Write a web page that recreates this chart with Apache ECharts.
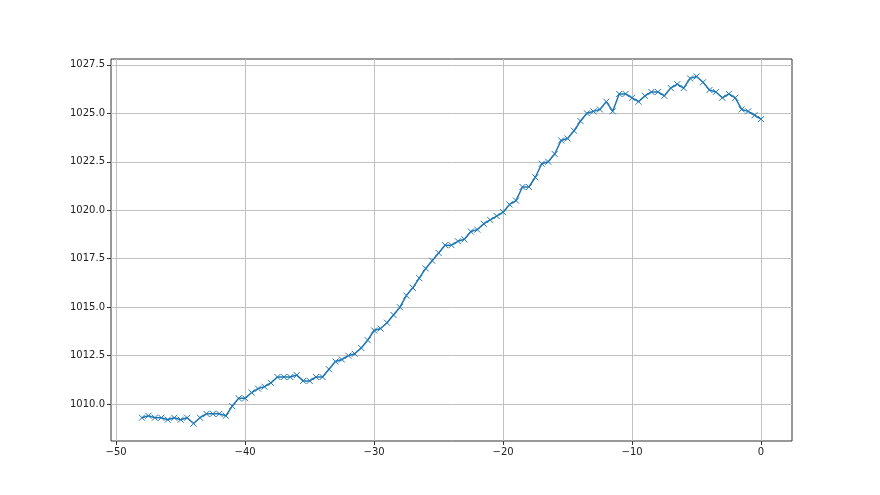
<!DOCTYPE html>
<html>
<head>
<meta charset="utf-8">
<script src="https://cdn.jsdelivr.net/npm/echarts@6/dist/echarts.min.js"></script>
<style>html,body{margin:0;padding:0;background:#fff}#c{width:880px;height:495px}</style>
</head>
<body>
<div id="c"></div>
<script>
const hours = [
  -48, -47.5, -47, -46.5, -46, -45.5, -45, -44.5, -44, -43.5, -43, -42.5, -42, -41.5, -41, -40.5,
  -40, -39.5, -39, -38.5, -38, -37.5, -37, -36.5, -36, -35.5, -35, -34.5, -34, -33.5, -33, -32.5,
  -32, -31.5, -31, -30.5, -30, -29.5, -29, -28.5, -28, -27.5, -27, -26.5, -26, -25.5, -25, -24.5,
  -24, -23.5, -23, -22.5, -22, -21.5, -21, -20.5, -20, -19.5, -19, -18.5, -18, -17.5, -17, -16.5,
  -16, -15.5, -15, -14.5, -14, -13.5, -13, -12.5, -12, -11.5, -11, -10.5, -10, -9.5, -9, -8.5,
  -8, -7.5, -7, -6.5, -6, -5.5, -5, -4.5, -4, -3.5, -3, -2.5, -2, -1.5, -1, -0.5, 0
];
const pressure = [
  1009.3, 1009.4, 1009.3, 1009.3, 1009.2, 1009.3, 1009.2, 1009.3, 1009.0, 1009.3, 1009.5, 1009.5, 1009.5, 1009.4, 1009.9, 1010.3,
  1010.3, 1010.6, 1010.8, 1010.9, 1011.1, 1011.4, 1011.4, 1011.4, 1011.5, 1011.2, 1011.2, 1011.4, 1011.4, 1011.8, 1012.2, 1012.3,
  1012.5, 1012.6, 1012.9, 1013.3, 1013.8, 1013.9, 1014.2, 1014.6, 1015.0, 1015.6, 1016.0, 1016.5, 1017.0, 1017.4, 1017.8, 1018.2,
  1018.2, 1018.4, 1018.5, 1018.9, 1019.0, 1019.3, 1019.5, 1019.7, 1019.9, 1020.3, 1020.5, 1021.2, 1021.2, 1021.7, 1022.4, 1022.5,
  1022.9, 1023.6, 1023.7, 1024.1, 1024.6, 1025.0, 1025.1, 1025.2, 1025.6, 1025.1, 1026.0, 1026.0, 1025.8, 1025.6, 1025.9, 1026.1,
  1026.1, 1025.9, 1026.3, 1026.5, 1026.3, 1026.8, 1026.9, 1026.6, 1026.2, 1026.1, 1025.8, 1026.0, 1025.8, 1025.2, 1025.1, 1024.9, 1024.7
];
const xTicks = [-50, -40, -30, -20, -10, 0];
const yTicks = [1010.0, 1012.5, 1015.0, 1017.5, 1020.0, 1022.5, 1025.0, 1027.5];

const xRange = [-50.4, 2.4];
const yRange = [1008.1, 1027.8];

const chart = echarts.init(document.getElementById('c'), null, {renderer: 'canvas'});
const font = {fontFamily: 'DejaVu Sans', fontSize: 10, color: '#222'};
chart.setOption({
  animation: false,
  backgroundColor: '#fff',
  grid: {left: 111, right: 88, top: 59, bottom: 54, show: true, borderColor: '#333', borderWidth: 1, backgroundColor: 'transparent'},
  xAxis: {
    type: 'value', min: xRange[0], max: xRange[1], position: 'bottom',
    axisLine: {show: false, onZero: false},
    axisTick: {show: true, customValues: xTicks, length: 4, lineStyle: {color: '#333'}},
    axisLabel: Object.assign({customValues: xTicks, margin: 6, formatter: v => String(Math.round(v)).replace('-', '\u2212')}, font),
    splitLine: {show: true, lineStyle: {color: '#c0c0c0', width: 1}}
  },
  yAxis: {
    type: 'value', min: yRange[0], max: yRange[1], position: 'left',
    axisLine: {show: false, onZero: false},
    axisTick: {show: true, customValues: yTicks, length: 4, lineStyle: {color: '#333'}},
    axisLabel: Object.assign({customValues: yTicks, margin: 6, formatter: v => v.toFixed(1)}, font),
    splitLine: {show: true, lineStyle: {color: '#c0c0c0', width: 1}}
  },
  series: [{
    type: 'line',
    data: hours.map((h, i) => [h, pressure[i]]),
    lineStyle: {color: '#1f77b4', width: 1.5},
    symbol: 'path://M0,0L10,10M10,0L0,10',
    symbolSize: 6,
    showAllSymbol: true,
    itemStyle: {color: 'rgba(0,0,0,0)', borderColor: '#1f77b4', borderWidth: 1}
  }]
});
</script>
</body>
</html>
